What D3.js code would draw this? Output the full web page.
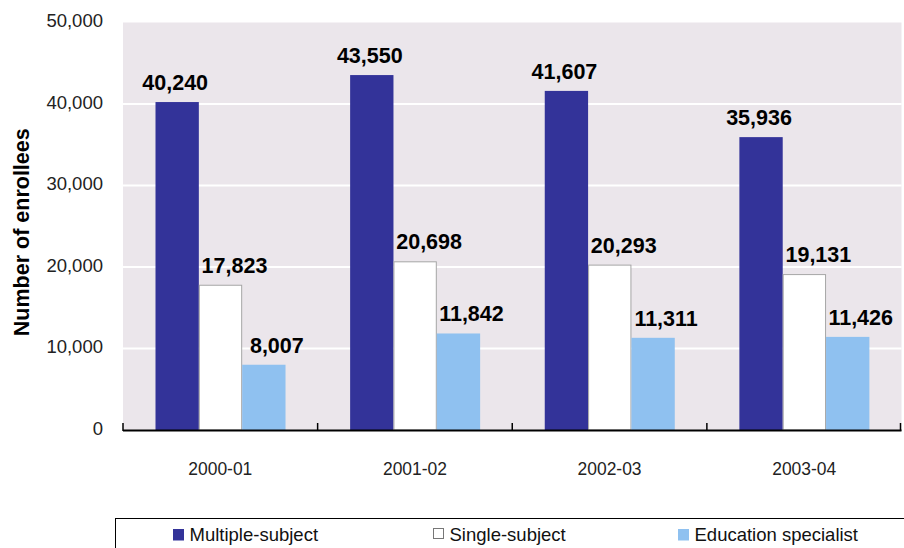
<!DOCTYPE html>
<html>
<head>
<meta charset="utf-8">
<script src="https://cdn.jsdelivr.net/npm/d3@7"></script>
<style>
  html, body { margin: 0; padding: 0; background: #fff; }
  svg { display: block; font-family: "Liberation Sans", Arial, sans-serif; }
</style>
</head>
<body>
<svg id="chart" width="904" height="548"></svg>
<script>
const categories = ["2000-01", "2001-02", "2002-03", "2003-04"];
const seriesNames = ["Multiple-subject", "Single-subject", "Education specialist"];
const multipleSubject = [40240, 43550, 41607, 35936];
const singleSubject = [17823, 20698, 20293, 19131];
const educationSpecialist = [8007, 11842, 11311, 11426];
const yTicks = [0, 10000, 20000, 30000, 40000, 50000];
const yTitle = "Number of enrollees";

const seriesValues = [multipleSubject, singleSubject, educationSpecialist];
const colors = ["#333399", "#ffffff", "#8fc1f0"];
const strokes = ["none", "#a6a6a6", "none"];
const labelDx = [-2, 14, 13];

const svg = d3.select("#chart");
const plot = { left: 123, right: 901.5, top: 22.5, bottom: 430 };

const x0 = d3.scaleBand().domain(categories).range([plot.left, plot.right]).padding(0);
const bw = x0.bandwidth();
const x1 = d3.scaleBand().domain(seriesNames).range([bw * 0.167, bw * 0.835]).padding(0);
const y = d3.scaleLinear().domain([0, 50000]).range([plot.bottom, plot.top]);
const fmt = d3.format(",");

// background
svg.append("rect")
  .attr("x", plot.left).attr("y", plot.top)
  .attr("width", plot.right - plot.left).attr("height", plot.bottom - plot.top)
  .attr("fill", "#ebe6eb");

// gridlines
svg.append("g")
  .selectAll("line")
  .data(yTicks.filter(t => t > 0 && t < 50000))
  .join("line")
  .attr("x1", plot.left).attr("x2", plot.right)
  .attr("y1", d => y(d)).attr("y2", d => y(d))
  .attr("stroke", "#ffffff").attr("stroke-width", 2);

// y tick labels
svg.append("g")
  .selectAll("text")
  .data(yTicks)
  .join("text")
  .attr("x", 103)
  .attr("y", d => y(d) - 1.5)
  .attr("dy", "0.35em")
  .attr("text-anchor", "end")
  .attr("font-size", 18.5)
  .attr("fill", "#222")
  .text(d => fmt(d));

// y title
svg.append("text")
  .attr("transform", `translate(28.5, ${(plot.top + plot.bottom) / 2 + 6}) rotate(-90)`)
  .attr("text-anchor", "middle")
  .attr("font-size", 21.5)
  .attr("font-weight", "bold")
  .attr("fill", "#000")
  .text(yTitle);

// bars
const groups = svg.append("g")
  .selectAll("g")
  .data(categories.map((c, i) => ({ c, i })))
  .join("g")
  .attr("transform", d => `translate(${x0(d.c)},0)`);

groups.selectAll("rect")
  .data(d => seriesNames.map((s, k) => ({ s, k, v: seriesValues[k][d.i] })))
  .join("rect")
  .attr("x", d => x1(d.s) + (d.k === 1 ? 0.5 : 0))
  .attr("y", d => y(d.v) + (d.k === 1 ? 0.5 : 0))
  .attr("width", d => x1.bandwidth() - (d.k === 1 ? 1 : 0))
  .attr("height", d => y(0) - y(d.v) - (d.k === 1 ? 0.5 : 0))
  .attr("fill", d => colors[d.k])
  .attr("stroke", d => strokes[d.k])
  .attr("stroke-width", 1);

groups.selectAll("text")
  .data(d => seriesNames.map((s, k) => ({ s, k, v: seriesValues[k][d.i] })))
  .join("text")
  .attr("x", d => x1(d.s) + x1.bandwidth() / 2 + labelDx[d.k])
  .attr("y", d => y(d.v) - 12)
  .attr("text-anchor", "middle")
  .attr("font-size", 21.5)
  .attr("font-weight", "bold")
  .attr("fill", "#000")
  .text(d => fmt(d.v));

// x axis baseline and ticks
const axis = svg.append("g");
axis.append("line")
  .attr("x1", plot.left).attr("x2", plot.right)
  .attr("y1", plot.bottom + 0.5).attr("y2", plot.bottom + 0.5)
  .attr("stroke", "#000").attr("stroke-width", 2);
const tickXs = categories.map(c => x0(c)).concat([x0(categories[categories.length - 1]) + bw]);
axis.selectAll("line.tick")
  .data(tickXs)
  .join("line")
  .attr("class", "tick")
  .attr("x1", d => Math.min(d, plot.right - 1)).attr("x2", d => Math.min(d, plot.right - 1))
  .attr("y1", plot.bottom - 7).attr("y2", plot.bottom + 1)
  .attr("stroke", "#000").attr("stroke-width", 1.5);

axis.selectAll("text")
  .data(categories)
  .join("text")
  .attr("x", d => x0(d) + bw / 2)
  .attr("y", 475)
  .attr("text-anchor", "middle")
  .attr("font-size", 19)
  .attr("textLength", 64)
  .attr("lengthAdjust", "spacingAndGlyphs")
  .attr("fill", "#222")
  .text(d => d);

// legend
const legend = svg.append("g");
legend.append("rect")
  .attr("x", 115.5).attr("y", 518.5)
  .attr("width", 800).attr("height", 60)
  .attr("fill", "#fff").attr("stroke", "#000").attr("stroke-width", 1);
const legendX = [173, 433, 678];
const legItems = legend.selectAll("g.item")
  .data(seriesNames.map((s, k) => ({ s, k })))
  .join("g")
  .attr("class", "item")
  .attr("transform", d => `translate(${legendX[d.k]},0)`);
legItems.append("rect")
  .attr("x", d => d.k === 1 ? 0.5 : 0)
  .attr("y", d => d.k === 1 ? 528.5 : 529)
  .attr("width", d => d.k === 1 ? 10 : 11)
  .attr("height", d => d.k === 1 ? 10 : 11.5)
  .attr("fill", d => colors[d.k])
  .attr("stroke", d => d.k === 1 ? "#777" : "none")
  .attr("stroke-width", 1);
legItems.append("text")
  .attr("x", 16.5)
  .attr("y", 540.5)
  .attr("font-size", 18.5)
  .attr("fill", "#111")
  .text(d => d.s);
</script>
</body>
</html>
